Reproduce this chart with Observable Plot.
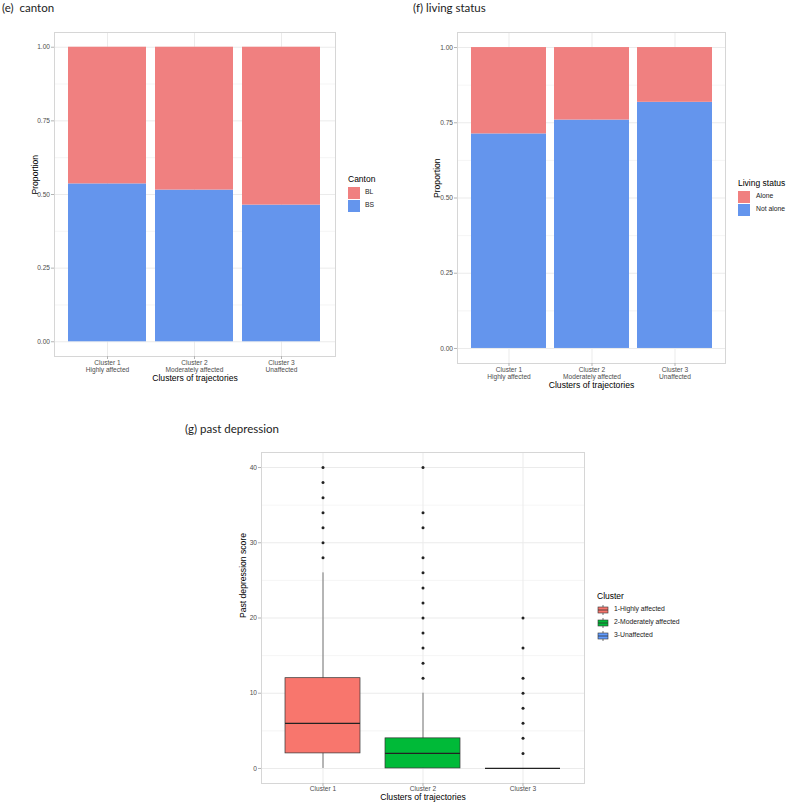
<!DOCTYPE html>
<html>
<head>
<meta charset="utf-8">
<script src="https://cdn.jsdelivr.net/npm/d3@7"></script>
<script src="https://cdn.jsdelivr.net/npm/@observablehq/plot@0.6"></script>
<style>
  html, body { margin: 0; padding: 0; background: #fff; }
  #root { position: relative; width: 789px; height: 806px; background: #fff; overflow: hidden; font-family: "Liberation Sans", Arial, sans-serif; }
  .ptitle { position: absolute; font-family: Lato, "Open Sans", sans-serif; font-size: 11.5px; color: #222; white-space: pre; line-height: 1; }
  .chart { position: absolute; }
  .leg-title { position: absolute; font-size: 8.5px; white-space: nowrap; line-height: 1; }
  .leg-key { position: absolute; }
  .leg-lab { position: absolute; font-size: 6.8px; white-space: nowrap; line-height: 1; color: #1a1a1a; }
</style>
</head>
<body>
<div id="root"></div>
<script>
// ---------------- data ----------------
const clusters = ["Cluster 1", "Cluster 2", "Cluster 3"];
const clusterSub = ["Highly affected", "Moderately affected", "Unaffected"];

// (e) canton proportions
const cantonLevels = ["BL", "BS"];
const cantonBS = [0.536, 0.515, 0.464];
const cantonBL = [0.464, 0.485, 0.536];

// (f) living status proportions
const livingLevels = ["Alone", "Not alone"];
const livingNotAlone = [0.713, 0.759, 0.818];
const livingAlone = [0.287, 0.241, 0.182];

// (g) past depression boxplot statistics
const clusterLegend = ["1-Highly affected", "2-Moderately affected", "3-Unaffected"];
const boxLow = [0, 0, 0];
const boxQ1 = [2, 0, 0];
const boxMedian = [6, 2, 0];
const boxQ3 = [12, 4, 0];
const boxHigh = [26, 10, 0];
const outliers1 = [28, 30, 32, 34, 36, 38, 40];
const outliers2 = [12, 14, 16, 18, 20, 22, 24, 26, 28, 32, 34, 40];
const outliers3 = [2, 4, 6, 8, 10, 12, 16, 20];

const propTicks = [0, 0.25, 0.5, 0.75, 1];
const propMinor = [0.125, 0.375, 0.625, 0.875];
const scoreTicks = [0, 10, 20, 30, 40];
const scoreMinor = [5, 15, 25, 35];

const barColors = ["#F08080", "#6495ED"];
const clusterColors = ["#F8766D", "#00BA38", "#619CFF"];

// ---------------- helpers ----------------
const root = document.getElementById("root");
const GRID = "#ebebeb";
const TICK = "#b3b3b3";
const AXTXT = "#4d4d4d";

function place(el, left, top) {
  el.classList.add("chart");
  el.style.left = left + "px";
  el.style.top = top + "px";
  root.appendChild(el);
}
function addTitle(text, left, top) {
  const d = document.createElement("div");
  d.className = "ptitle";
  d.textContent = text;
  d.style.left = left + "px";
  d.style.top = top + "px";
  root.appendChild(d);
}
function addLegend(title, labels, colors, x, y, kind, opts) {
  const t = document.createElement("div");
  t.className = "leg-title";
  t.textContent = title;
  t.style.left = x + "px";
  t.style.top = y + "px";
  root.appendChild(t);
  labels.forEach((lab, i) => {
    const ky = y + opts.keyTop + i * opts.step;
    const key = document.createElementNS("http://www.w3.org/2000/svg", "svg");
    key.setAttribute("width", opts.kw);
    key.setAttribute("height", opts.kh);
    key.classList.add("leg-key");
    key.style.left = x + "px";
    key.style.top = ky + "px";
    if (kind === "rect") {
      key.innerHTML = `<rect x="0" y="0" width="${opts.kw}" height="${opts.kh}" fill="${colors[i]}"/>`;
    } else {
      const cx = opts.kw / 2;
      key.innerHTML =
        `<line x1="${cx}" x2="${cx}" y1="0" y2="${opts.kh}" stroke="#333" stroke-width="0.7"/>` +
        `<rect x="1" y="${opts.kh*0.2}" width="${opts.kw-2}" height="${opts.kh*0.6}" fill="${colors[i]}" stroke="#333" stroke-width="0.6"/>` +
        `<line x1="1" x2="${opts.kw-1}" y1="${opts.kh/2}" y2="${opts.kh/2}" stroke="#333" stroke-width="0.8"/>`;
    }
    root.appendChild(key);
    const l = document.createElement("div");
    l.className = "leg-lab";
    l.textContent = lab;
    l.style.left = (x + opts.labX) + "px";
    l.style.top = (ky + opts.kh / 2 - 3.6) + "px";
    root.appendChild(l);
  });
}

function propChart(table, levels, cfg) {
  return Plot.plot({
    width: cfg.width,
    height: cfg.height,
    marginLeft: cfg.ml, marginRight: cfg.mr, marginTop: cfg.mt, marginBottom: cfg.mb,
    style: { fontFamily: "'Liberation Sans', Arial, sans-serif", fontSize: "6.6px", background: "transparent", overflow: "visible" },
    x: { domain: clusters, paddingInner: 0.1, paddingOuter: 0.15, label: null },
    y: { domain: [-0.05, 1.05], label: null },
    color: { domain: levels, range: barColors },
    marks: [
      Plot.gridY(propMinor, { stroke: GRID, strokeOpacity: 1, strokeWidth: 0.5 }),
      Plot.gridY(propTicks, { stroke: GRID, strokeOpacity: 1, strokeWidth: 1 }),
      Plot.gridX(clusters, { stroke: GRID, strokeOpacity: 1, strokeWidth: 1 }),
      Plot.barY(table, { x: "cluster", y: "value", fill: "group" }),
      Plot.frame({ stroke: "#d6d6d6", strokeWidth: 1 }),
      Plot.axisY({ ticks: propTicks, tickFormat: d3.format(".2f"), tickSize: 3, tickPadding: 1.5, stroke: TICK, fill: AXTXT, label: null }),
      Plot.axisX({ tickSize: 3, tickPadding: 0.5, stroke: TICK, fill: AXTXT, label: null, lineHeight: 1.1,
        tickFormat: (d) => d + "\n" + clusterSub[clusters.indexOf(d)] }),
      Plot.text(["Clusters of trajectories"], { frameAnchor: "bottom", dy: cfg.xTitleDy, fontSize: 8.6, fill: "#000" }),
      Plot.text(["Proportion"], { frameAnchor: "left", rotate: -90, dx: cfg.yTitleDx, fontSize: 8.6, fill: "#000" })
    ]
  });
}

// ---------------- (e) canton ----------------
const cantonTable = [];
clusters.forEach((c, i) => {
  cantonTable.push({ cluster: c, group: "BS", value: cantonBS[i] });
  cantonTable.push({ cluster: c, group: "BL", value: cantonBL[i] });
});
addTitle("(e)  canton", 2, 2);
place(propChart(cantonTable, cantonLevels, { width: 345, height: 375, ml: 54, mr: 10, mt: 12, mb: 39, xTitleDy: 24, yTitleDx: -19 }), 0, 20);
addLegend("Canton", cantonLevels, barColors, 348, 175, "rect", { keyTop: 12, step: 13, kw: 12, kh: 12, labX: 17 });

// ---------------- (f) living status ----------------
const livingTable = [];
clusters.forEach((c, i) => {
  livingTable.push({ cluster: c, group: "Not alone", value: livingNotAlone[i] });
  livingTable.push({ cluster: c, group: "Alone", value: livingAlone[i] });
});
addTitle("(f) living status", 413, 2);
place(propChart(livingTable, livingLevels, { width: 330, height: 375, ml: 57, mr: 5, mt: 12, mb: 32, xTitleDy: 24.5, yTitleDx: -20 }), 400, 20);
addLegend("Living status", livingLevels, barColors, 738, 179, "rect", { keyTop: 12, step: 13, kw: 12, kh: 12, labX: 18 });

// ---------------- (g) past depression ----------------
const boxTable = clusters.map((c, i) => ({ cluster: c, low: boxLow[i], q1: boxQ1[i], median: boxMedian[i], q3: boxQ3[i], high: boxHigh[i] }));
const outlierTable = [];
[outliers1, outliers2, outliers3].forEach((arr, i) => arr.forEach(v => outlierTable.push({ cluster: clusters[i], value: v })));

addTitle("(g) past depression", 185, 423);
const boxChart = Plot.plot({
  width: 410, height: 366,
  marginLeft: 81, marginRight: 6, marginTop: 12, marginBottom: 23,
  style: { fontFamily: "'Liberation Sans', Arial, sans-serif", fontSize: "6.6px", background: "transparent", overflow: "visible" },
  x: { domain: clusters, paddingInner: 0.25, paddingOuter: 0.225, label: null },
  y: { domain: [-2, 42], label: null },
  color: { domain: clusters, range: clusterColors },
  marks: [
    Plot.gridY(scoreMinor, { stroke: GRID, strokeOpacity: 1, strokeWidth: 0.5 }),
    Plot.gridY(scoreTicks, { stroke: GRID, strokeOpacity: 1, strokeWidth: 1 }),
    Plot.gridX(clusters, { stroke: GRID, strokeOpacity: 1, strokeWidth: 1 }),
    Plot.ruleX(boxTable, { x: "cluster", y1: "low", y2: "high", stroke: "#555", strokeWidth: 0.8 }),
    Plot.barY(boxTable, { x: "cluster", y1: "q1", y2: "q3", fill: "cluster", stroke: "#333", strokeWidth: 0.7 }),
    Plot.tickY(boxTable, { x: "cluster", y: "median", stroke: "#222", strokeWidth: 1.3 }),
    Plot.dot(outlierTable, { x: "cluster", y: "value", r: 1.5, fill: "#222", stroke: null }),
    Plot.frame({ stroke: "#d6d6d6", strokeWidth: 1 }),
    Plot.axisY({ ticks: scoreTicks, tickSize: 3, tickPadding: 1.5, stroke: TICK, fill: AXTXT, label: null }),
    Plot.axisX({ tickSize: 3, tickPadding: 0.3, stroke: TICK, fill: AXTXT, label: null }),
    Plot.text(["Clusters of trajectories"], { frameAnchor: "bottom", dy: 16.5, fontSize: 8.6, fill: "#000" }),
    Plot.text(["Past depression score"], { frameAnchor: "left", rotate: -90, dx: -18, fontSize: 8.6, fill: "#000" })
  ]
});
place(boxChart, 180, 440);
addLegend("Cluster", clusterLegend, clusterColors, 597, 592, "box", { keyTop: 13, step: 13, kw: 12, kh: 10, labX: 17 });
</script>
</body>
</html>
